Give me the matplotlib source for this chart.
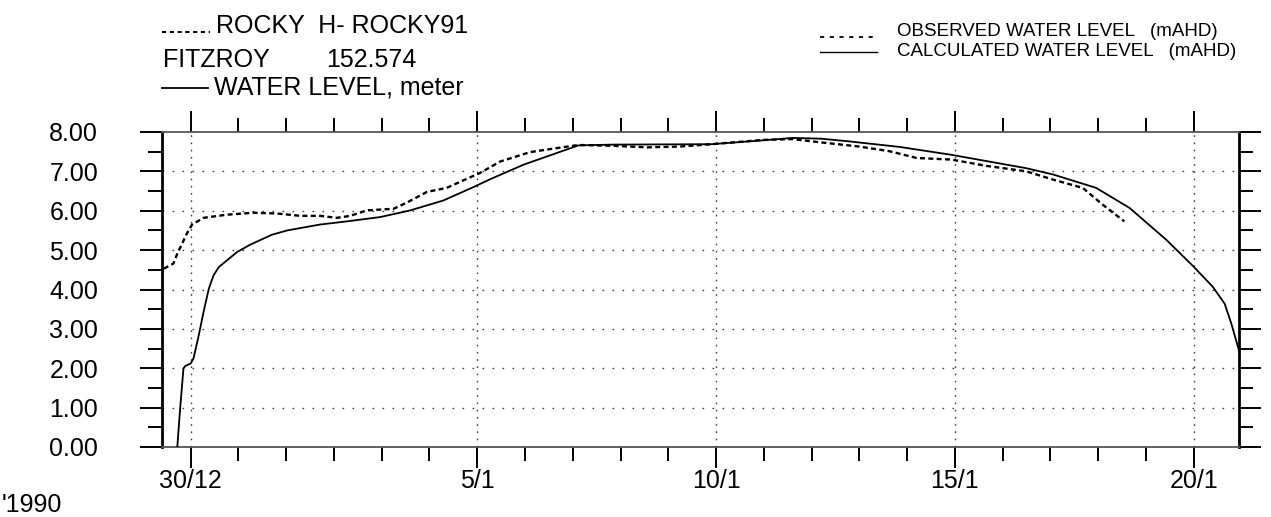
import matplotlib
matplotlib.use('Agg')
import matplotlib.pyplot as plt
from matplotlib.ticker import FixedLocator, MultipleLocator, FormatStrFormatter
from matplotlib.lines import Line2D

plt.rcParams['font.family'] = ['Liberation Sans', 'DejaVu Sans']
plt.rcParams['lines.scale_dashes'] = False

# days counted from 30/12/1989
calc_day = [-0.28, -0.22, -0.15, -0.11, 0.0, 0.06, 0.17, 0.27, 0.38, 0.48,
            0.59, 0.97, 1.25, 1.70, 2.02, 2.71, 3.27, 3.97, 4.60, 5.29,
            5.92, 6.27, 6.97, 8.12, 8.85, 10.9, 12.0, 12.6, 13.2, 13.8,
            14.85, 15.93, 17.5, 18.06, 18.96, 19.66, 20.43, 21.0, 21.4, 21.65,
            21.79, 21.95]
calc_level = [0.0, 0.98, 2.0, 2.06, 2.12, 2.25, 2.84, 3.43, 4.02, 4.36,
              4.57, 4.95, 5.14, 5.39, 5.50, 5.65, 5.73, 5.84, 6.01, 6.26,
              6.60, 6.80, 7.17, 7.66, 7.68, 7.69, 7.79, 7.85, 7.83, 7.76,
              7.62, 7.42, 7.08, 6.92, 6.58, 6.07, 5.26, 4.58, 4.07, 3.64,
              3.13, 2.45]

obs_day = [-0.56, -0.36, -0.28, -0.18, -0.08, 0.03, 0.27, 0.76, 1.32, 1.81,
           2.30, 2.71, 3.06, 3.34, 3.69, 4.25, 4.53, 4.95, 5.36, 5.78,
           6.06, 6.48, 7.11, 7.66, 8.12, 8.85, 9.55, 10.24, 10.9, 12.0,
           12.6, 13.17, 14.0, 14.64, 15.2, 15.93, 16.66, 17.5, 18.06, 18.68,
           19.1, 19.55]
obs_level = [4.53, 4.66, 4.91, 5.16, 5.42, 5.65, 5.82, 5.90, 5.95, 5.93,
             5.87, 5.87, 5.82, 5.87, 6.01, 6.05, 6.21, 6.48, 6.58, 6.81,
             6.96, 7.25, 7.49, 7.59, 7.67, 7.65, 7.61, 7.63, 7.69, 7.80,
             7.82, 7.74, 7.63, 7.51, 7.34, 7.30, 7.14, 7.00, 6.79, 6.58,
             6.15, 5.73]

label_days = [0, 6, 11, 16, 21]
label_text = ['30/12', '5/1', '10/1', '15/1', '20/1']

W, H = 1271, 517


def fx(px):
    return px / W


def fy(py):
    return 1 - py / H


fig = plt.figure(figsize=(W / 100, H / 100), dpi=100)
ax = fig.add_axes([fx(162), fy(447), fx(1239) - fx(162), fy(132) - fy(447)])

# sparse dotted grid
for lv in range(1, 8):
    ax.axhline(lv, color='black', lw=1.0, ls=(0, (1.2, 6)), alpha=0.75, zorder=1)
for d in label_days:
    ax.axvline(d, color='black', lw=1.0, ls=(0, (1.2, 4)), alpha=0.75, zorder=1)

ax.plot(calc_day, calc_level, color='black', lw=1.3, zorder=3)
ax.plot(obs_day, obs_level, color='black', lw=1.7, dashes=(3.6, 2.4), zorder=3)

ax.set_xlim(-0.6, 21.95)
ax.set_ylim(0, 8)

ax.xaxis.set_major_locator(FixedLocator(label_days))
ax.xaxis.set_minor_locator(MultipleLocator(1))
ax.set_xticklabels(label_text)
ax.yaxis.set_major_locator(MultipleLocator(1))
ax.yaxis.set_minor_locator(MultipleLocator(0.5))
ax.yaxis.set_major_formatter(FormatStrFormatter('%.2f'))

ax.tick_params(axis='x', which='both', direction='out', top=True, bottom=True,
               width=1.4, labelsize=18, pad=1)
ax.tick_params(axis='x', which='major', length=15)
ax.tick_params(axis='x', which='minor', length=10)
ax.tick_params(axis='y', which='both', direction='out', left=True, right=True,
               width=1.4, labelsize=18, pad=30)
ax.tick_params(axis='y', which='major', length=16)
ax.tick_params(axis='y', which='minor', length=10)
for lbl in ax.get_xticklabels():
    lbl.set_x(lbl.get_position()[0])

for side in ['top', 'bottom']:
    ax.spines[side].set_color('#555555')
    ax.spines[side].set_linewidth(1.3)
for side in ['left', 'right']:
    ax.spines[side].set_linewidth(2.0)

# header block, top left
fig.add_artist(Line2D([fx(162), fx(210)], [fy(32), fy(32)], color='black',
                      lw=1.5, dashes=(3.0, 2.6)))
fig.text(fx(216), fy(26), 'ROCKY  H- ROCKY91', fontsize=18, va='center', ha='left')
fig.text(fx(163), fy(60), 'FITZROY', fontsize=18, va='center', ha='left')
fig.text(fx(326), fy(60), '152.574', fontsize=18, va='center', ha='left')
fig.add_artist(Line2D([fx(162), fx(208)], [fy(88), fy(88)], color='black', lw=1.3))
fig.text(fx(214), fy(88), 'WATER LEVEL, meter', fontsize=18, va='center', ha='left')

# legend, top right
fig.add_artist(Line2D([fx(820), fx(877)], [fy(37), fy(37)], color='black',
                      lw=1.3, dashes=(3.0, 4.0)))
fig.add_artist(Line2D([fx(820), fx(877)], [fy(52), fy(52)], color='black', lw=1.0))
fig.text(fx(897), fy(32), 'OBSERVED WATER LEVEL   (mAHD)', fontsize=13.5,
         va='center', ha='left')
fig.text(fx(897), fy(51), 'CALCULATED WATER LEVEL   (mAHD)', fontsize=13.5,
         va='center', ha='left')

fig.text(fx(2), fy(505), "'1990", fontsize=18, va='center', ha='left')

fig.savefig('out.png', dpi=100)
